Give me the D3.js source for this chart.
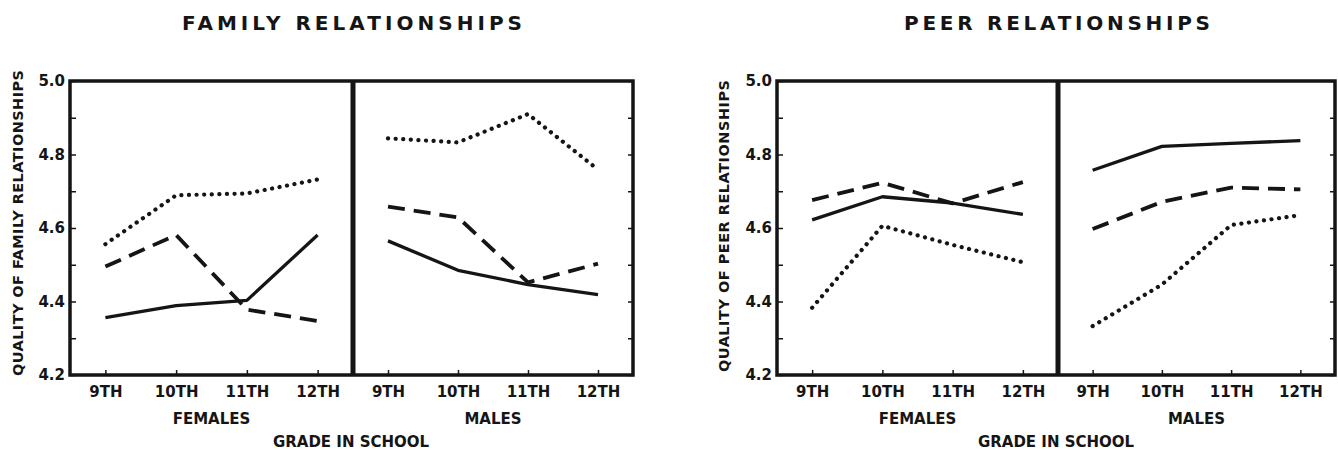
<!DOCTYPE html>
<html>
<head>
<meta charset="utf-8">
<script src="https://cdn.jsdelivr.net/npm/d3@7"></script>
<style>
  body { margin: 0; background: #fff; }
  text { fill: #151515; font-family: "DejaVu Sans", sans-serif; font-weight: bold; }
</style>
</head>
<body>
<div id="chart"></div>
<script>
var svgWidth = 1338;
var svgHeight = 450;

// grades on the x axis, labelled y values
var grades = ["9TH", "10TH", "11TH", "12TH"];
var yLabels = [4.2, 4.4, 4.6, 4.8, 5.0];
var yMinor = [4.2, 4.3, 4.4, 4.5, 4.6, 4.7, 4.8, 4.9, 5.0];

// family relationships
var familySolidF = [4.356, 4.389, 4.403, 4.581];
var familySolidM = [4.565, 4.485, 4.446, 4.419];
var familyDashedF = [4.495, 4.581, 4.378, 4.347];
var familyDashedM = [4.658, 4.629, 4.452, 4.503];
var familyDottedF = [4.556, 4.689, 4.694, 4.732];
var familyDottedM = [4.844, 4.833, 4.910, 4.759];

// peer relationships
var peerSolidF = [4.622, 4.685, 4.668, 4.637];
var peerSolidM = [4.757, 4.822, 4.830, 4.838];
var peerDashedF = [4.676, 4.723, 4.667, 4.725];
var peerDashedM = [4.597, 4.671, 4.710, 4.705];
var peerDottedF = [4.383, 4.606, 4.554, 4.507];
var peerDottedM = [4.333, 4.446, 4.608, 4.635];

var ink = "#151515";

var svg = d3.select("#chart")
  .append("svg")
  .attr("width", svgWidth)
  .attr("height", svgHeight);

var plotTop = 81, plotBottom = 375;

var yScale = d3.scaleLinear()
  .domain([4.2, 5.0])
  .range([plotBottom, plotTop]);

// line styles: solid, dashed, dotted
var styles = {
  solid: { width: 3.3, dash: null, cap: "butt" },
  dashed: { width: 3.8, dash: "17,9", cap: "butt" },
  dotted: { width: 4.2, dash: "0.1,7.5", cap: "round" }
};

function drawChart(opts) {
  var g = svg.append("g");

  var xF = d3.scalePoint().domain(grades).range([opts.left, opts.mid]).padding(0.5);
  var xM = d3.scalePoint().domain(grades).range([opts.mid, opts.right]).padding(0.5);

  // title
  g.append("text")
    .attr("x", opts.titleX)
    .attr("y", 30)
    .attr("text-anchor", "middle")
    .attr("textLength", opts.titleLen)
    .attr("lengthAdjust", "spacing")
    .style("font-size", "20px")
    .text(opts.title);

  // left axis with inward ticks
  var leftAxis = d3.axisLeft(yScale)
    .tickValues(yMinor)
    .tickSizeInner(-6)
    .tickSizeOuter(0)
    .tickPadding(5)
    .tickFormat(d => yLabels.some(v => Math.abs(v - d) < 1e-6) ? d3.format(".1f")(d) : "");

  var la = g.append("g")
    .attr("transform", `translate(${opts.left},0)`)
    .call(leftAxis);
  la.select(".domain").remove();
  la.selectAll("line").attr("stroke", ink).attr("stroke-width", 1.5);
  la.selectAll("text").style("font-size", "15px").attr("fill", ink);

  // right axis, ticks only
  var ra = g.append("g")
    .attr("transform", `translate(${opts.right},0)`)
    .call(d3.axisRight(yScale).tickValues(yMinor).tickSizeInner(-5).tickSizeOuter(0).tickFormat(""));
  ra.select(".domain").remove();
  ra.selectAll("line").attr("stroke", ink).attr("stroke-width", 1.5);

  // bottom axes, one per panel
  [xF, xM].forEach(function(x) {
    var ba = g.append("g")
      .attr("transform", `translate(0,${plotBottom})`)
      .call(d3.axisBottom(x).tickSizeInner(-5).tickSizeOuter(0).tickPadding(11));
    ba.select(".domain").remove();
    ba.selectAll("line").attr("stroke", ink).attr("stroke-width", 1.5);
    ba.selectAll("text").style("font-size", "15px").attr("fill", ink);
  });

  // frame and divider
  g.append("rect")
    .attr("x", opts.left)
    .attr("y", plotTop)
    .attr("width", opts.right - opts.left)
    .attr("height", plotBottom - plotTop)
    .attr("fill", "none")
    .attr("stroke", ink)
    .attr("stroke-width", 3.5);

  g.append("line")
    .attr("x1", opts.mid).attr("x2", opts.mid)
    .attr("y1", plotTop).attr("y2", plotBottom + 1)
    .attr("stroke", ink)
    .attr("stroke-width", 5);

  // series lines
  opts.series.forEach(function(s) {
    var x = s.panel === "F" ? xF : xM;
    var st = styles[s.style];
    var line = d3.line()
      .x((d, i) => x(grades[i]))
      .y(d => yScale(d));
    g.append("path")
      .datum(s.values)
      .attr("d", line)
      .attr("fill", "none")
      .attr("stroke", ink)
      .attr("stroke-width", st.width)
      .attr("stroke-dasharray", st.dash)
      .attr("stroke-linecap", st.cap)
      .attr("stroke-linejoin", "round");
  });

  // panel labels
  g.append("text")
    .attr("x", (opts.left + opts.mid) / 2)
    .attr("y", 424)
    .attr("text-anchor", "middle")
    .style("font-size", "15px")
    .text("FEMALES");

  g.append("text")
    .attr("x", (opts.mid + opts.right) / 2)
    .attr("y", 424)
    .attr("text-anchor", "middle")
    .style("font-size", "15px")
    .text("MALES");

  g.append("text")
    .attr("x", opts.mid - 2)
    .attr("y", 447)
    .attr("text-anchor", "middle")
    .style("font-size", "15px")
    .text("GRADE IN SCHOOL");

  // y axis label
  g.append("text")
    .attr("transform", `translate(${opts.yLabelX},${opts.yLabelY}) rotate(-90)`)
    .attr("text-anchor", "middle")
    .attr("textLength", opts.yLabelLen)
    .attr("lengthAdjust", "spacing")
    .style("font-size", "14.5px")
    .text(opts.yLabel);
}

drawChart({
  left: 70, mid: 353, right: 633,
  title: "FAMILY RELATIONSHIPS", titleX: 352, titleLen: 340,
  yLabel: "QUALITY OF FAMILY RELATIONSHIPS", yLabelX: 23, yLabelY: 223, yLabelLen: 306,
  series: [
    { panel: "F", style: "solid", values: familySolidF },
    { panel: "M", style: "solid", values: familySolidM },
    { panel: "F", style: "dashed", values: familyDashedF },
    { panel: "M", style: "dashed", values: familyDashedM },
    { panel: "F", style: "dotted", values: familyDottedF },
    { panel: "M", style: "dotted", values: familyDottedM }
  ]
});

drawChart({
  left: 777, mid: 1058, right: 1335,
  title: "PEER RELATIONSHIPS", titleX: 1057, titleLen: 306,
  yLabel: "QUALITY OF PEER RELATIONSHIPS", yLabelX: 729, yLabelY: 226, yLabelLen: 292,
  series: [
    { panel: "F", style: "solid", values: peerSolidF },
    { panel: "M", style: "solid", values: peerSolidM },
    { panel: "F", style: "dashed", values: peerDashedF },
    { panel: "M", style: "dashed", values: peerDashedM },
    { panel: "F", style: "dotted", values: peerDottedF },
    { panel: "M", style: "dotted", values: peerDottedM }
  ]
});
</script>
</body>
</html>
